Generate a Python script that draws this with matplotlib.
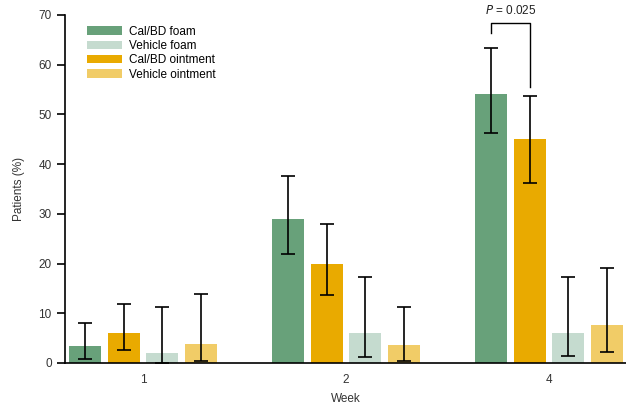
import matplotlib.pyplot as plt
import numpy as np

plt.rcParams['font.family'] = ['Liberation Sans', 'DejaVu Sans']

weeks = ['1', '2', '4']
series = ['Cal/BD foam', 'Cal/BD ointment', 'Vehicle foam', 'Vehicle ointment']
colors = ['#68a17a', '#e9aa00', '#c5dbcf', '#f1cc67']
legend_order = [0, 2, 1, 3]

# percent of patients, per series, per week
values = [
    [3.5, 29.0, 54.2],
    [6.0, 20.0, 45.1],
    [2.0, 6.0, 6.1],
    [3.8, 3.6, 7.7],
]
ci_low = [
    [0.8, 22.0, 46.3],
    [2.7, 13.7, 36.3],
    [0.0, 1.3, 1.4],
    [0.4, 0.5, 2.3],
]
ci_high = [
    [8.1, 37.6, 63.3],
    [11.8, 27.9, 53.8],
    [11.2, 17.3, 17.2],
    [13.9, 11.3, 19.2],
]
p_text = '0.025'
bracket_top = 68.3
bracket_left_end = 66.3
bracket_right_end = 55.6

fig = plt.figure(figsize=(6.26, 4.04), dpi=100)
ax = fig.add_axes([0.1038, 0.1015, 0.8962, 0.8614])

x = np.arange(len(weeks))
step = 0.19
width = 0.158
handles = []
for i, name in enumerate(series):
    pos = x + (i - 1.5) * step
    v = np.array(values[i])
    yerr = [v - np.array(ci_low[i]), np.array(ci_high[i]) - v]
    b = ax.bar(pos, v, width, color=colors[i], label=name, zorder=2)
    ax.errorbar(pos, v, yerr=yerr, fmt='none', ecolor='black', elinewidth=1.2,
                capsize=5, capthick=1.2, zorder=3)
    handles.append(b)

# significance bracket for week 4
xl = x[2] - 1.5 * step
xr = x[2] - 0.5 * step
ax.plot([xl, xl, xr, xr], [bracket_left_end, bracket_top, bracket_top, bracket_right_end],
        color='black', lw=1.0, clip_on=False)
ax.text((xl + xr) / 2, bracket_top + 1.2, r'$\it{P}$ = ' + p_text, ha='center', va='bottom',
        fontsize=8.5, color='#222222')

ax.set_xlim(-0.384, 2.38)
ax.set_ylim(0, 70)
ax.set_xticks(x)
ax.set_xticklabels(weeks)
ax.set_yticks(range(0, 71, 10))
ax.tick_params(axis='x', length=0, labelsize=8.5, pad=8, colors='#333333')
ax.tick_params(axis='y', length=6, width=1.2, labelsize=8.5, colors='#333333')
ax.tick_params(axis='y', color='black')
for s in ['top', 'right']:
    ax.spines[s].set_visible(False)
ax.spines['left'].set_linewidth(1.2)
ax.spines['bottom'].set_linewidth(1.2)
ax.set_xlabel('Week', fontsize=8.5, color='#333333', labelpad=5)
ax.set_ylabel('Patients (%)', fontsize=8.5, color='#333333', labelpad=10)

ax.legend([handles[k] for k in legend_order], [series[k] for k in legend_order],
          loc='upper left', bbox_to_anchor=(0.02, 1.0), frameon=False, fontsize=8.5,
          handlelength=3.0, handleheight=0.7, handletextpad=0.6, labelspacing=0.2)

fig.savefig('out.png', dpi=100)
